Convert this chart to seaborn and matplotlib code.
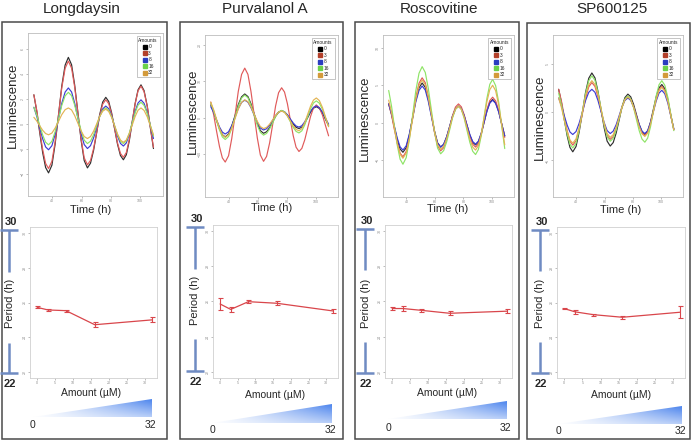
import numpy as np
import pandas as pd
import matplotlib
matplotlib.use("Agg")
import matplotlib.pyplot as plt
import seaborn as sns
from matplotlib.patches import Polygon, Rectangle
from matplotlib.lines import Line2D

# ---- values ----
time_h = [27.5, 29.5, 31.5, 33.5, 35.5, 37.5,
          39.8, 42, 44.3, 46.5, 48.8, 51,
          53.2, 55.3, 57.5, 59.7, 61.8, 64,
          66.1, 68.2, 70.3, 72.3, 74.4, 76.5,
          78.5, 80.5, 82.5, 84.5, 86.5, 88.5,
          90.5, 92.5, 94.5, 96.5, 98.5, 100.5,
          102.6, 104.8, 106.9, 109]
amounts = [0, 3, 8, 16, 32]
amount_labels = ["0", "3", "8", "16", "32"]

longdaysin_0 = [2.3, 0.96, -0.74, -2.33, -3.52, -3.95, -3.33, -1.64, 0.68, 2.99, 4.68, 5.3, 4.71, 3.09, 0.88, -1.34, -2.96, -3.55, -3.17, -2.14, -0.73, 0.69, 1.72, 2.1, 1.77, 0.85, -0.4, -1.65, -2.56, -2.9, -2.5, -1.4, 0.1, 1.6, 2.7, 3.1, 2.64, 1.38, -0.35, -2.0]
longdaysin_3 = [2.3, 1.04, -0.57, -2.07, -3.19, -3.6, -3.02, -1.45, 0.7, 2.85, 4.42, 5.0, 4.44, 2.93, 0.85, -1.22, -2.74, -3.3, -2.95, -2.0, -0.7, 0.6, 1.55, 1.9, 1.59, 0.75, -0.4, -1.55, -2.39, -2.7, -2.32, -1.28, 0.15, 1.57, 2.62, 3.0, 2.55, 1.35, -0.31, -1.9]
longdaysin_8 = [1.3, 0.57, -0.35, -1.22, -1.87, -2.1, -1.77, -0.86, 0.37, 1.61, 2.52, 2.85, 2.53, 1.64, 0.43, -0.79, -1.68, -2.0, -1.77, -1.15, -0.3, 0.55, 1.17, 1.4, 1.19, 0.6, -0.2, -1.0, -1.59, -1.8, -1.55, -0.88, 0.05, 0.97, 1.65, 1.9, 1.62, 0.86, -0.2, -1.2]
longdaysin_16 = [1.3, 0.66, -0.16, -0.92, -1.49, -1.7, -1.42, -0.65, 0.4, 1.45, 2.22, 2.5, 2.23, 1.48, 0.45, -0.57, -1.33, -1.6, -1.41, -0.89, -0.18, 0.54, 1.06, 1.25, 1.06, 0.54, -0.17, -0.89, -1.41, -1.6, -1.38, -0.78, 0.05, 0.87, 1.48, 1.7, 1.45, 0.79, -0.13, -1.0]
longdaysin_32 = [0.5, 0.2, -0.18, -0.54, -0.8, -0.9, -0.76, -0.36, 0.17, 0.71, 1.11, 1.25, 1.09, 0.64, 0.03, -0.59, -1.04, -1.2, -1.04, -0.61, -0.03, 0.56, 0.99, 1.15, 0.97, 0.49, -0.17, -0.84, -1.32, -1.5, -1.32, -0.81, -0.13, 0.56, 1.07, 1.25, 1.05, 0.53, -0.2, -0.9]

purvalanol_0 = [3.5, 1.62, -0.78, -3.01, -4.69, -5.3, -4.51, -2.35, 0.6, 3.55, 5.71, 6.5, 5.78, 3.8, 1.1, -1.6, -3.58, -4.3, -3.88, -2.75, -1.2, 0.35, 1.48, 1.9, 1.57, 0.68, -0.55, -1.77, -2.67, -3.0, -2.6, -1.5, 0.0, 1.5, 2.6, 3.0, 2.53, 1.25, -0.52, -2.2]
purvalanol_3 = [4.3, 0.77, -3.72, -7.91, -11.06, -12.2, -10.47, -5.75, 0.7, 7.15, 11.87, 13.6, 11.88, 7.2, 0.8, -5.6, -10.28, -12.0, -10.65, -6.95, -1.9, 3.15, 6.85, 8.2, 7.03, 3.83, -0.55, -4.92, -8.13, -9.3, -8.44, -6.1, -2.9, 0.3, 2.64, 3.5, 2.73, 0.64, -2.25, -5.0]
purvalanol_8 = [3.0, 1.4, -0.64, -2.55, -3.98, -4.5, -3.88, -2.18, 0.15, 2.47, 4.18, 4.8, 4.25, 2.75, 0.7, -1.35, -2.85, -3.4, -3.04, -2.08, -0.75, 0.57, 1.54, 1.9, 1.6, 0.78, -0.35, -1.47, -2.3, -2.6, -2.21, -1.15, 0.3, 1.75, 2.81, 3.2, 2.74, 1.51, -0.18, -1.8]
purvalanol_16 = [4.0, 1.86, -0.86, -3.4, -5.31, -6.0, -5.18, -2.95, 0.1, 3.15, 5.38, 6.2, 5.46, 3.45, 0.7, -2.05, -4.06, -4.8, -4.34, -3.1, -1.4, 0.3, 1.54, 2.0, 1.58, 0.45, -1.1, -2.65, -3.78, -4.2, -3.61, -2.0, 0.2, 2.4, 4.01, 4.6, 3.96, 2.24, -0.13, -2.4]
purvalanol_32 = [4.2, 2.15, -0.47, -2.9, -4.74, -5.4, -4.71, -2.83, -0.25, 2.32, 4.21, 4.9, 4.37, 2.93, 0.95, -1.02, -2.47, -3.0, -2.68, -1.8, -0.6, 0.6, 1.48, 1.8, 1.44, 0.45, -0.9, -2.25, -3.24, -3.6, -3.0, -1.35, 0.9, 3.15, 4.8, 5.4, 4.68, 2.74, 0.06, -2.5]

roscovitine_0 = [2.5, 1.11, -0.66, -2.31, -3.55, -4.0, -3.38, -1.68, 0.65, 2.97, 4.68, 5.3, 4.72, 3.15, 1.0, -1.15, -2.72, -3.3, -2.93, -1.93, -0.55, 0.82, 1.83, 2.2, 1.85, 0.9, -0.4, -1.7, -2.65, -3.0, -2.59, -1.48, 0.05, 1.57, 2.69, 3.1, 2.65, 1.45, -0.21, -1.8]
roscovitine_3 = [2.5, 0.98, -0.95, -2.75, -4.11, -4.6, -3.89, -1.95, 0.7, 3.35, 5.29, 6.0, 5.34, 3.55, 1.1, -1.35, -3.14, -3.8, -3.38, -2.23, -0.65, 0.92, 2.08, 2.5, 2.11, 1.05, -0.4, -1.85, -2.91, -3.3, -2.85, -1.63, 0.05, 1.72, 2.95, 3.4, 2.91, 1.58, -0.25, -2.0]
roscovitine_8 = [2.5, 1.17, -0.51, -2.09, -3.27, -3.7, -3.12, -1.55, 0.6, 2.75, 4.32, 4.9, 4.35, 2.85, 0.8, -1.25, -2.75, -3.3, -2.93, -1.93, -0.55, 0.82, 1.83, 2.2, 1.86, 0.93, -0.35, -1.62, -2.56, -2.9, -2.5, -1.43, 0.05, 1.52, 2.6, 3.0, 2.56, 1.38, -0.24, -1.8]
roscovitine_16 = [4.3, 2.18, -0.51, -3.03, -4.92, -5.6, -4.72, -2.33, 0.95, 4.22, 6.62, 7.5, 6.72, 4.58, 1.65, -1.27, -3.42, -4.2, -3.77, -2.6, -1.0, 0.6, 1.77, 2.2, 1.76, 0.58, -1.05, -2.67, -3.86, -4.3, -3.62, -1.78, 0.75, 3.27, 5.12, 5.8, 4.95, 2.67, -0.49, -3.5]
roscovitine_32 = [3.0, 1.33, -0.79, -2.77, -4.26, -4.8, -4.1, -2.18, 0.45, 3.07, 5.0, 5.7, 5.08, 3.38, 1.05, -1.27, -2.98, -3.6, -3.21, -2.15, -0.7, 0.75, 1.81, 2.2, 1.8, 0.73, -0.75, -2.22, -3.3, -3.7, -3.12, -1.53, 0.65, 2.82, 4.42, 5.0, 4.27, 2.3, -0.41, -3.0]

sp600125_0 = [2.4, 1.01, -0.76, -2.41, -3.65, -4.1, -3.55, -2.05, 0.0, 2.05, 3.55, 4.1, 3.59, 2.2, 0.3, -1.6, -2.99, -3.5, -3.14, -2.15, -0.8, 0.55, 1.54, 1.9, 1.62, 0.85, -0.2, -1.25, -2.02, -2.3, -1.95, -1.0, 0.3, 1.6, 2.55, 2.9, 2.47, 1.32, -0.28, -1.8]
sp600125_3 = [2.4, 1.16, -0.42, -1.89, -3.0, -3.4, -2.96, -1.78, -0.15, 1.47, 2.66, 3.1, 2.7, 1.63, 0.15, -1.32, -2.4, -2.8, -2.51, -1.7, -0.6, 0.5, 1.31, 1.6, 1.33, 0.6, -0.4, -1.4, -2.13, -2.4, -2.06, -1.13, 0.15, 1.42, 2.36, 2.7, 2.29, 1.18, -0.34, -1.8]
sp600125_8 = [1.5, 0.69, -0.35, -1.31, -2.04, -2.3, -1.99, -1.13, 0.05, 1.22, 2.09, 2.4, 2.09, 1.25, 0.1, -1.05, -1.89, -2.2, -1.95, -1.28, -0.35, 0.57, 1.25, 1.5, 1.25, 0.58, -0.35, -1.27, -1.95, -2.2, -1.9, -1.08, 0.05, 1.17, 2.0, 2.3, 1.94, 0.95, -0.4, -1.7]
sp600125_16 = [2.0, 0.78, -0.77, -2.22, -3.31, -3.7, -3.2, -1.83, 0.05, 1.92, 3.3, 3.8, 3.34, 2.1, 0.4, -1.3, -2.54, -3.0, -2.69, -1.83, -0.65, 0.52, 1.39, 1.7, 1.38, 0.5, -0.7, -1.9, -2.78, -3.1, -2.67, -1.5, 0.1, 1.7, 2.87, 3.3, 2.83, 1.55, -0.22, -1.9]
sp600125_32 = [1.5, 0.49, -0.78, -1.98, -2.88, -3.2, -2.76, -1.58, 0.05, 1.67, 2.86, 3.3, 2.9, 1.83, 0.35, -1.12, -2.2, -2.6, -2.32, -1.55, -0.5, 0.55, 1.32, 1.6, 1.33, 0.58, -0.45, -1.47, -2.23, -2.5, -2.16, -1.23, 0.05, 1.32, 2.26, 2.6, 2.2, 1.12, -0.37, -1.8]

longdaysin_period = [25.72, 25.57, 25.53, 24.72, 25.0]
longdaysin_sem = [0.05, 0.07, 0.06, 0.15, 0.15]
purvalanol_period = [25.86, 25.55, 25.99, 25.9, 25.46]
purvalanol_sem = [0.36, 0.15, 0.08, 0.1, 0.13]
roscovitine_period = [25.6, 25.6, 25.5, 25.33, 25.45]
roscovitine_sem = [0.07, 0.12, 0.07, 0.12, 0.1]
sp600125_period = [25.65, 25.46, 25.3, 25.15, 25.44]
sp600125_sem = [0.04, 0.1, 0.05, 0.1, 0.35]

curve_colors = ["#2e2e2e", "#e05a5a", "#3c3cd4", "#8ee466", "#e3b454"]
legend_colors = ["#000000", "#b3402a", "#2a3cc0", "#6cd14a", "#d39a3a"]
period_red = "#d9464b"
bar_blue = "#6f8bc2"

W, H = 693, 441

# pixel layout of every panel (x0, y0, x1, y1 in pixels from top-left)
panels = [
    dict(name="Longdaysin", curves=[longdaysin_0, longdaysin_3, longdaysin_8, longdaysin_16, longdaysin_32],
         period=longdaysin_period, sem=longdaysin_sem, yticks=[-4, -2, 0, 2, 4, 6], ylim=(-5.8, 7.25),
         frame=(2, 22, 167, 439), title_x=82, lum=(28, 33, 163, 196), per=(30, 227, 157, 378),
         lum_lab=(13, 105), time_lab=(91, 210), per_lab=(10, 303), amt_lab=(91, 393),
         bar_x=9, bar=(230, 272, 343, 373), tri=(33, 152, 399, 417), tri_lab_y=425),
    dict(name="Purvalanol A", curves=[purvalanol_0, purvalanol_3, purvalanol_8, purvalanol_16, purvalanol_32],
         period=purvalanol_period, sem=purvalanol_sem, yticks=[-10, 0, 10, 20], ylim=(-21.8, 22.7),
         frame=(180, 22, 343, 439), title_x=265, lum=(205, 35, 338, 197), per=(213, 225, 338, 378),
         lum_lab=(193, 111), time_lab=(272, 208), per_lab=(195, 300), amt_lab=(275, 395),
         bar_x=195, bar=(227, 269, 339, 371), tri=(212, 332, 404, 423), tri_lab_y=430),
    dict(name="Roscovitine", curves=[roscovitine_0, roscovitine_3, roscovitine_8, roscovitine_16, roscovitine_32],
         period=roscovitine_period, sem=roscovitine_sem, yticks=[-5, 0, 5, 10], ylim=(-10.0, 11.75),
         frame=(355, 22, 519, 439), title_x=439, lum=(383, 35, 514, 197), per=(385, 225, 512, 378),
         lum_lab=(365, 118), time_lab=(448, 209), per_lab=(366, 303), amt_lab=(447, 393),
         bar_x=365, bar=(229, 270, 342, 373), tri=(388, 507, 401, 419), tri_lab_y=428),
    dict(name="SP600125", curves=[sp600125_0, sp600125_3, sp600125_8, sp600125_16, sp600125_32],
         period=sp600125_period, sem=sp600125_sem, yticks=[-5, 0, 5], ylim=(-8.8, 8.05),
         frame=(527, 23, 690, 439), title_x=612, lum=(553, 35, 683, 197), per=(557, 227, 685, 378),
         lum_lab=(540, 117), time_lab=(621, 210), per_lab=(540, 303), amt_lab=(621, 395),
         bar_x=540, bar=(230, 271, 342, 373), tri=(558, 682, 406, 424), tri_lab_y=431),
]

sns.set_style("white")
plt.rcParams["font.family"] = ["Liberation Sans", "DejaVu Sans"]

fig = plt.figure(figsize=(W / 100, H / 100), dpi=100)
over = fig.add_axes([0, 0, 1, 1])
over.axis("off")


def px_axes(box):
    x0, y0, x1, y1 = box
    return fig.add_axes([x0 / W, 1 - y1 / H, (x1 - x0) / W, (y1 - y0) / H])


def style_axes(ax, spine_color):
    for sp in ax.spines.values():
        sp.set_color(spine_color)
        sp.set_linewidth(0.6)
    ax.tick_params(length=1.5, width=0.4, colors="#8a8a8a", labelsize=2.6, pad=1,
                   bottom=True, left=True)
    for lab in ax.get_yticklabels():
        lab.set_rotation(90)
        lab.set_va("center")


# gradient used for the amount wedges
gx = np.linspace(0, 1, 200)[None, :]
gy = np.linspace(0, 1, 40)[:, None]
alpha = gx * (1 - 0.6 * gy)
blue = np.array([0.30, 0.52, 0.93])
grad = np.ones((40, 200, 3)) * (1 - alpha[..., None]) + blue * alpha[..., None]

for p in panels:
    fx0, fy0, fx1, fy1 = p["frame"]
    over.add_patch(Rectangle((fx0, fy0), fx1 - fx0, fy1 - fy0, fill=False,
                             ec="#4a4a4a", lw=1.1))
    over.text(p["title_x"], 9, p["name"], ha="center", va="center", fontsize=11)

    # luminescence traces
    ax = px_axes(p["lum"])
    rows = []
    for amt, vals in zip(amount_labels, p["curves"]):
        rows.append(pd.DataFrame({"Time": time_h, "Luminescence": vals, "Amounts": amt}))
    df = pd.concat(rows, ignore_index=True)
    sns.lineplot(data=df, x="Time", y="Luminescence", hue="Amounts",
                 hue_order=amount_labels, palette=dict(zip(amount_labels, curve_colors)),
                 estimator=None, sort=False, lw=0.85, legend=False, ax=ax)
    ax.set_xlim(23.5, 115.5)
    ax.set_ylim(*p["ylim"])
    ax.set_xticks([40, 60, 80, 100])
    ax.set_yticks(p["yticks"])
    style_axes(ax, "#bdbdbd")
    handles = [Line2D([], [], marker="s", ls="", color=c, markersize=2.4) for c in legend_colors]
    leg = ax.legend(handles, amount_labels, title="Amounts", fontsize=3.5, title_fontsize=3.5,
                    loc="upper right", bbox_to_anchor=(0.975, 0.98), frameon=True,
                    fancybox=False, edgecolor="#9a9a9a", framealpha=1, borderpad=0.35,
                    handletextpad=0.3, labelspacing=0.3, handlelength=0.9, borderaxespad=0)
    leg.get_frame().set_linewidth(0.4)
    ax.set_xlabel("Time (h)", fontsize=8)
    ax.set_ylabel("Luminescence", fontsize=9.5)
    ax.xaxis.set_label_coords(*p["time_lab"], transform=over.transData)
    ax.yaxis.set_label_coords(*p["lum_lab"], transform=over.transData)
    ax.xaxis.label.set_va("center")
    ax.yaxis.label.set_va("center")

    # period vs amount
    bx = px_axes(p["per"])
    sns.lineplot(x=amounts, y=p["period"], color=period_red, lw=0.9, ax=bx)
    bx.errorbar(amounts, p["period"], yerr=p["sem"], fmt="none", ecolor=period_red,
                elinewidth=0.8, capsize=1.8, capthick=0.8)
    bx.set_xlim(-2, 33.3)
    bx.set_ylim(21.65, 30.35)
    bx.set_xticks([0, 5, 10, 15, 20, 25, 30])
    bx.set_yticks([22, 24, 26, 28, 30])
    style_axes(bx, "#d0d0d0")
    bx.set_xlabel("Amount (\u00b5M)", fontsize=7.5)
    bx.set_ylabel("")
    bx.xaxis.set_label_coords(*p["amt_lab"], transform=over.transData)
    bx.xaxis.label.set_va("center")

    # blue 22-30 scale bar with period label
    x = p["bar_x"]
    top, g0, g1, bot = p["bar"]
    over.plot([x, x], [top, g0], color=bar_blue, lw=1.8, solid_capstyle="butt")
    over.plot([x, x], [g1, bot], color=bar_blue, lw=1.8, solid_capstyle="butt")
    over.plot([x - 9, x + 9], [top, top], color=bar_blue, lw=1.8, solid_capstyle="butt")
    over.plot([x - 9, x + 9], [bot, bot], color=bar_blue, lw=1.8, solid_capstyle="butt")
    over.text(x + 2, top - 8, "30", ha="center", va="center", fontsize=8, fontweight="bold")
    over.text(x + 1, bot + 11, "22", ha="center", va="center", fontsize=8, fontweight="bold")
    over.text(p["per_lab"][0], p["per_lab"][1], "Period (h)", rotation=90,
              ha="center", va="center", fontsize=8)

    # amount wedge
    tx0, tx1, ty_top, ty_bot = p["tri"]
    im = over.imshow(grad, extent=(tx0, tx1, ty_bot, ty_top), aspect="auto",
                     origin="upper", interpolation="bilinear")
    tri = Polygon([(tx0, ty_bot), (tx1, ty_top), (tx1, ty_bot)], closed=True,
                  transform=over.transData, fc="none", ec="none")
    over.add_patch(tri)
    im.set_clip_path(tri)
    over.text(tx0, p["tri_lab_y"], "0", ha="center", va="center", fontsize=7.5)
    over.text(tx1 - 2, p["tri_lab_y"], "32", ha="center", va="center", fontsize=7.5)

over.set_xlim(0, W)
over.set_ylim(H, 0)

fig.savefig("out.png", dpi=100)
